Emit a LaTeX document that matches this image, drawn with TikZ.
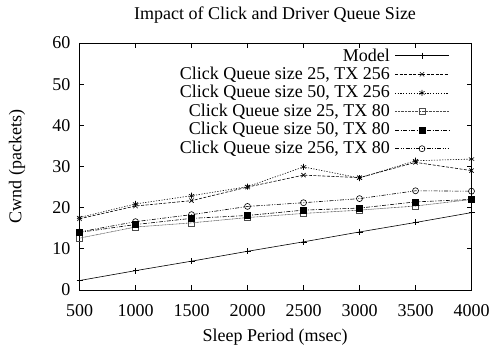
\documentclass[tikz,border=0pt]{standalone}
\usepackage{fontspec}
\setmainfont{Liberation Serif}
\usetikzlibrary{plotmarks,calc}

\begin{document}
\begin{tikzpicture}[x=1pt, y=-1pt,
    lbl/.style={font=\fontsize{18}{21}\selectfont, inner sep=0pt},
    axis/.style={line width=0.7pt, black},
    series/.style={line width=0.6pt, mark size=3pt,
                   mark options={solid, line width=0.6pt}},
    model/.style={series, mark=+},
    qbiga/.style={series, mark=x, dash pattern=on 3pt off 1.5pt},
    qbigb/.style={series, mark=asterisk, dash pattern=on 1.2pt off 1.5pt},
    qsmalla/.style={series, black!70, mark=square, dash pattern=on 0.8pt off 0.6pt},
    qsmallb/.style={series, mark=square*, dash pattern=on 4pt off 1.5pt on 1pt off 1.5pt},
    qsmallc/.style={series, mark=o, dash pattern=on 4pt off 1.5pt on 1pt off 1.5pt on 1pt off 1.5pt}
  ]
  \useasboundingbox (0,0) rectangle (492,350);
  % --- labels ---
  \node[lbl] (title) at (275,15) {Impact of Click and Driver Queue Size};
  \node[lbl, rotate=90] (ylab) at (17,166.5) {Cwnd (packets)};
  \node[lbl] (xlab) at (275,337) {Sleep Period (msec)};
  % --- axes and data ---
  \begin{scope}[shift={(23.5,290)}, x=0.112pt, y=4.117pt]
    \foreach \v in {500,1000,...,4000} {
      \draw[axis] (\v,0) -- ++(0,1.1) (\v,60) -- ++(0,-1.1);
      \node[lbl, anchor=north] (xt\v) at (\v,-3.6) {\v};
    }
    \foreach \v in {0,10,...,60} {
      \draw[axis] (500,\v) -- ++(40,0) (4000,\v) -- ++(-40,0);
      \node[lbl, anchor=east] (yt\v) at (420,\v) {\v};
    }
    \draw[axis] (500,0) rectangle (4000,60);
    \draw[model] plot coordinates {(500,2.3) (1000,4.7) (1500,7.0) (2000,9.4)
      (2500,11.7) (3000,14.1) (3500,16.4) (4000,18.8)};
    \draw[qbiga] plot coordinates {(500,17.3) (1000,20.4) (1500,21.7) (2000,25.0)
      (2500,27.9) (3000,27.3) (3500,31.0) (4000,29.0)};
    \draw[qbigb] plot coordinates {(500,17.6) (1000,20.9) (1500,22.9) (2000,25.1)
      (2500,29.9) (3000,27.2) (3500,31.4) (4000,31.8)};
    \draw[qsmalla] plot coordinates {(500,12.6) (1000,15.3) (1500,16.3) (2000,17.6)
      (2500,18.6) (3000,19.4) (3500,20.4) (4000,22.0)};
    \draw[qsmallb] plot coordinates {(500,14.0) (1000,15.9) (1500,17.4) (2000,18.1)
      (2500,19.4) (3000,19.9) (3500,21.4) (4000,22.0)};
    \draw[qsmallc] plot coordinates {(500,14.1) (1000,16.6) (1500,18.3) (2000,20.3)
      (2500,21.2) (3000,22.2) (3500,24.1) (4000,24.0)};
  \end{scope}
  % --- legend ---
  \foreach \i/\st/\txt in {0/model/Model, 1/qbiga/{Click Queue size 25, TX 256},
      2/qbigb/{Click Queue size 50, TX 256}, 3/qsmalla/{Click Queue size 25, TX 80},
      4/qsmallb/{Click Queue size 50, TX 80}, 5/qsmallc/{Click Queue size 256, TX 80}} {
    \node[lbl, anchor=east] (key\i) at (390,55.7+18.6*\i) {\txt};
    \coordinate (ka\i) at (395,55.7+18.6*\i);
    \coordinate (kb\i) at (449,55.7+18.6*\i);
    \draw[\st] (ka\i) -- (kb\i);
    \path[\st] plot coordinates {($(ka\i)!0.5!(kb\i)$)};
  }
\end{tikzpicture}
\end{document}
